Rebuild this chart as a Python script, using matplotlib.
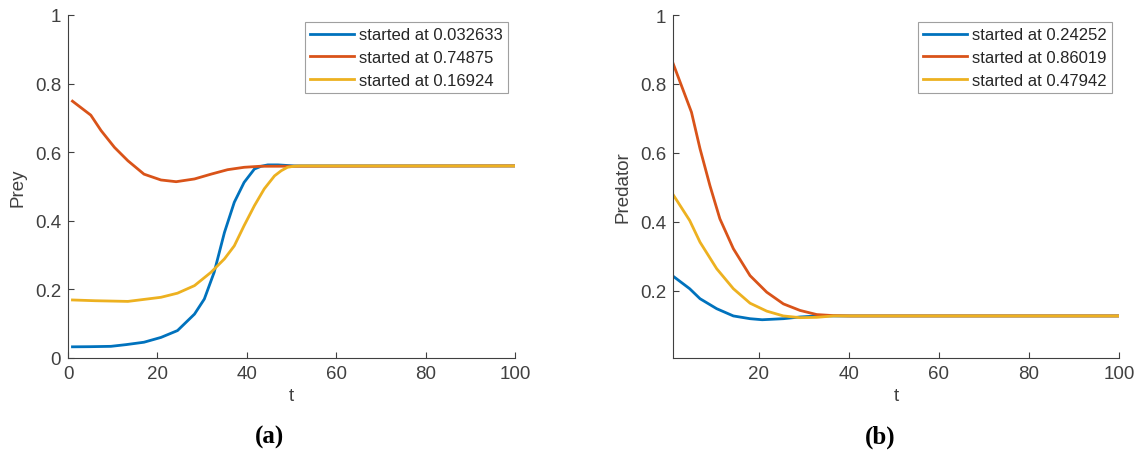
import matplotlib.pyplot as plt

# Prey (panel a)
prey_blue_t = [1, 5, 9.6, 13, 17, 20.8, 24.5, 28.3, 30.5, 32.7, 35, 37.2, 39.4, 41.7, 43.2, 44.7, 47, 50.6, 100]
prey_blue_y = [0.0326, 0.033, 0.034, 0.039, 0.046, 0.060, 0.080, 0.128, 0.172, 0.25, 0.366, 0.454, 0.512, 0.551, 0.559, 0.563, 0.563, 0.56, 0.56]
prey_red_t = [1, 5.1, 7.4, 10.4, 13.4, 17, 20.8, 24.2, 28.3, 32, 35.7, 39.4, 43, 100]
prey_red_y = [0.7488, 0.708, 0.663, 0.614, 0.575, 0.536, 0.519, 0.514, 0.522, 0.536, 0.549, 0.556, 0.559, 0.56]
prey_yel_t = [1, 6, 13.4, 20.8, 24.5, 28.3, 32, 35, 37.2, 39.4, 41.7, 43.9, 46.2, 47.7, 49.1, 50.5, 52, 100]
prey_yel_y = [0.1692, 0.167, 0.165, 0.177, 0.189, 0.211, 0.25, 0.289, 0.327, 0.386, 0.444, 0.493, 0.531, 0.546, 0.556, 0.559, 0.56, 0.56]
prey_labels = ["started at 0.032633", "started at 0.74875", "started at 0.16924"]

# Predator (panel b)
pred_blue_t = [1, 4.7, 7, 10.7, 14.4, 18.1, 20.8, 25.5, 29.2, 32.9, 100]
pred_blue_y = [0.2425, 0.206, 0.177, 0.148, 0.127, 0.119, 0.116, 0.119, 0.124, 0.127, 0.127]
pred_red_t = [1, 5.1, 7, 9.2, 11.4, 14.4, 18.1, 21.8, 25.5, 29.2, 32.9, 36.6, 40.3, 100]
pred_red_y = [0.8602, 0.718, 0.612, 0.505, 0.409, 0.322, 0.244, 0.196, 0.162, 0.143, 0.131, 0.128, 0.127, 0.127]
pred_yel_t = [1, 4.7, 7, 10.7, 14.4, 18.1, 21.8, 25.5, 29.2, 32.9, 36.6, 100]
pred_yel_y = [0.4794, 0.404, 0.341, 0.264, 0.206, 0.164, 0.141, 0.127, 0.122, 0.123, 0.127, 0.127]
pred_labels = ["started at 0.24252", "started at 0.86019", "started at 0.47942"]

colors = ["#0072BD", "#D95319", "#EDB120"]
plt.rcParams['font.family'] = ['Liberation Sans', 'DejaVu Sans']

fig = plt.figure(figsize=(11.4, 4.52), dpi=100)
ax1 = fig.add_axes([68/1140, 93/452, 447/1140, 343/452])
ax2 = fig.add_axes([673/1140, 93/452, 446/1140, 343/452])


def style(ax, ylabel):
    for s in ["top", "right"]:
        ax.spines[s].set_visible(False)
    for s in ["left", "bottom"]:
        ax.spines[s].set_color("#404040")
        ax.spines[s].set_linewidth(0.8)
    ax.tick_params(direction="in", length=4, colors="#404040", labelsize=13.5, pad=5)
    ax.set_xlabel("t", fontsize=13.5, color="#404040", labelpad=4)
    ax.set_ylabel(ylabel, fontsize=13.5, color="#404040", labelpad=6)


series1 = [(prey_blue_t, prey_blue_y), (prey_red_t, prey_red_y), (prey_yel_t, prey_yel_y)]
for (t, y), c, lab in zip(series1, colors, prey_labels):
    ax1.plot(t, y, color=c, lw=2, label=lab)
ax1.set_xlim(0, 100)
ax1.set_ylim(0, 1)
ax1.set_xticks([0, 20, 40, 60, 80, 100])
ax1.set_yticks([0, 0.2, 0.4, 0.6, 0.8, 1])
ax1.set_yticklabels(["0", "0.2", "0.4", "0.6", "0.8", "1"])
style(ax1, "Prey")

series2 = [(pred_blue_t, pred_blue_y), (pred_red_t, pred_red_y), (pred_yel_t, pred_yel_y)]
for (t, y), c, lab in zip(series2, colors, pred_labels):
    ax2.plot(t, y, color=c, lw=2, label=lab)
ax2.set_xlim(1, 100)
ax2.set_ylim(0.005, 1)
ax2.set_xticks([20, 40, 60, 80, 100])
ax2.set_yticks([0.2, 0.4, 0.6, 0.8, 1])
ax2.set_yticklabels(["0.2", "0.4", "0.6", "0.8", "1"])
style(ax2, "Predator")

for ax in (ax1, ax2):
    leg = ax.legend(loc="upper right", fontsize=12, frameon=True, fancybox=False,
                    borderpad=0.35, handlelength=2.6, handletextpad=0.3, labelspacing=0.45,
                    borderaxespad=0.4)
    leg.get_frame().set_edgecolor("#888888")
    leg.get_frame().set_linewidth(0.8)
    for txt in leg.get_texts():
        txt.set_color("#262626")

fig.text(270/1140, 1 - 437/452, "(a)", ha="center", va="center", fontsize=18,
         fontweight="bold", family="Liberation Serif")
fig.text(880/1140, 1 - 437/452, "(b)", ha="center", va="center", fontsize=18,
         fontweight="bold", family="Liberation Serif")

fig.savefig("out.png", dpi=100)
